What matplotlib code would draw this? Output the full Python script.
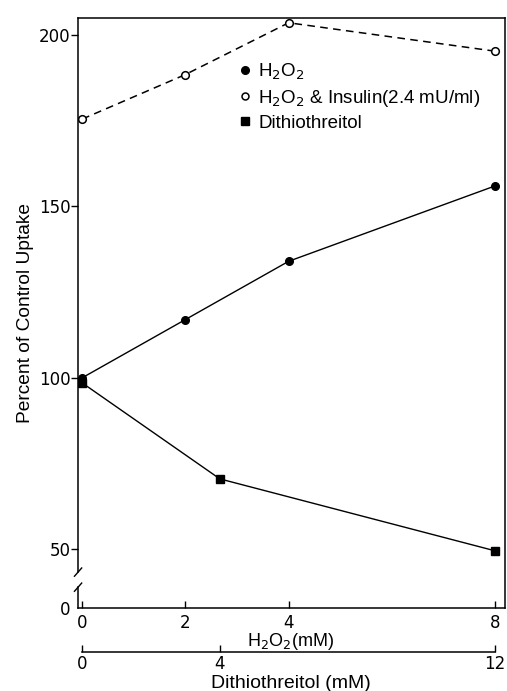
import matplotlib.pyplot as plt
from matplotlib.lines import Line2D

plt.rcParams['font.family'] = ['Liberation Sans', 'DejaVu Sans']

# H2O2 series (x in mM H2O2)
h2o2_conc = [0, 2, 4, 8]
h2o2_uptake = [100, 117, 134, 156]

# H2O2 + insulin
ins_conc = [0, 2, 4, 8]
ins_uptake = [175.5, 188.5, 203.6, 195.3]

# Dithiothreitol (x in mM DTT, shown on the lower axis)
dtt_conc = [0, 4, 12]
dtt_uptake = [98.5, 70.5, 49.5]

h2o2_ticks = [0, 2, 4, 8]
dtt_ticks = [0, 4, 12]
y_ticks = [50, 100, 150, 200]
y_zero = 32.8          # where the "0" sits below the axis break
dtt_scale = 8 / 12     # DTT mM -> H2O2 axis units

tick_font = {'family': 'DejaVu Sans', 'size': 12}

fig = plt.figure(figsize=(5.07, 6.91), dpi=100)
ax = fig.add_axes([0.154, 0.12, 0.842, 0.854])

ax.plot(h2o2_conc, h2o2_uptake, color='black', lw=1.0,
        marker='o', ms=5.5, mfc='black', mec='black')
ax.plot(ins_conc, ins_uptake, color='black', lw=1.1, ls=(0, (5, 3.5)),
        marker='o', ms=5.5, mfc='white', mec='black', mew=1.1)
ax.plot([d * dtt_scale for d in dtt_conc], dtt_uptake, color='black', lw=1.0,
        marker='s', ms=6, mfc='black', mec='black')

ax.set_xlim(-0.08, 8.19)
ax.set_ylim(y_zero, 205)

ax.set_yticks([y_zero] + y_ticks)
ax.set_yticklabels(['0'] + [str(v) for v in y_ticks], fontdict=tick_font)
ax.set_xticks(h2o2_ticks)
ax.set_xticklabels([str(v) for v in h2o2_ticks], fontdict=tick_font)
ax.tick_params(axis='y', direction='out', length=5, width=1, pad=0.5)
ax.tick_params(axis='x', direction='in', length=5, width=1, pad=4)
ax.yaxis.get_major_ticks()[0].tick1line.set_visible(False)
ax.set_ylabel('Percent of Control Uptake', fontsize=13.8)
ax.yaxis.set_label_coords(-0.103, 0.5)

fig.text(291 / 507, 1 - 642 / 691, 'H$_2$O$_2$(mM)', fontsize=13,
         ha='center', va='center')

for s in ax.spines.values():
    s.set_linewidth(1.1)

# broken left spine
y_brk_hi, y_brk_lo = 43.3, 38.9
ax.spines['left'].set_bounds(y_brk_hi, 205)
ax.plot([-0.08, -0.08], [y_zero, y_brk_lo], color='black', lw=1.1,
        clip_on=False)
for yb in (y_brk_lo, y_brk_hi):
    ax.plot([-0.15, -0.01], [yb - 1.2, yb + 1.2], color='black', lw=1.0,
            clip_on=False)

# legend
handles = [
    Line2D([], [], ls='none', marker='o', ms=5.5, mfc='black', mec='black'),
    Line2D([], [], ls='none', marker='o', ms=5, mfc='white', mec='black', mew=1.1),
    Line2D([], [], ls='none', marker='s', ms=6, mfc='black', mec='black'),
]
labels = ['H$_2$O$_2$', 'H$_2$O$_2$ & Insulin(2.4 mU/ml)', 'Dithiothreitol']
ax.legend(handles, labels, loc='upper left', bbox_to_anchor=(0.36, 0.938),
          frameon=False, fontsize=13.5, handlelength=0.6, handletextpad=0.4,
          labelspacing=0.3, borderaxespad=0)

# lower dithiothreitol axis
ax2 = fig.add_axes([0.154, 0.056, 0.842, 0.001])
ax2.set_xlim(-0.08 / dtt_scale, 8.19 / dtt_scale)
ax2.set_ylim(0, 1)
for side in ('top', 'left', 'right'):
    ax2.spines[side].set_visible(False)
ax2.spines['bottom'].set_bounds(0, 12)
ax2.spines['bottom'].set_linewidth(1.1)
ax2.set_yticks([])
ax2.set_xticks(dtt_ticks)
ax2.set_xticklabels([str(v) for v in dtt_ticks], fontdict=tick_font)
ax2.tick_params(axis='x', direction='in', length=5, width=1, pad=2)
ax2.patch.set_visible(False)

fig.text(291 / 507, 1 - 683 / 691, 'Dithiothreitol (mM)', fontsize=14,
         ha='center', va='center')

fig.savefig('out.png', dpi=100)
